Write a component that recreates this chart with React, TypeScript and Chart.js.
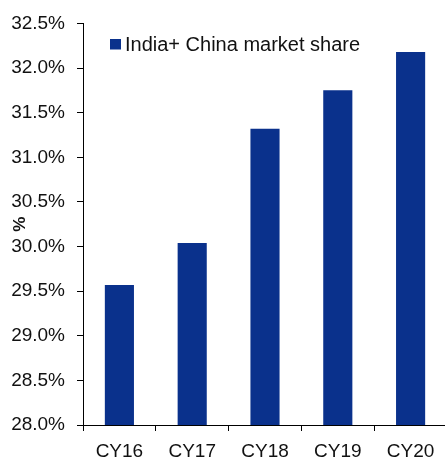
import React, { useEffect, useRef } from "react";
import { Chart, registerables } from "chart.js";

Chart.register(...registerables);

const categories: string[] = ["CY16", "CY17", "CY18", "CY19", "CY20"];
const marketShare: number[] = [29.57, 30.04, 31.32, 31.75, 32.18];
const seriesLabel = "India+ China market share";
const yTitle = "%";
const yMin = 28;
const yMax = 32.5;
const yStep = 0.5;

const BAR_COLOR = "#0a318c";
const FONT = "'Liberation Sans', Arial, sans-serif";

const legendPlugin = {
  id: "customLegend",
  afterDraw(chart: any) {
    const ctx = chart.ctx;
    const ds = chart.data.datasets[0];
    ctx.save();
    ctx.fillStyle = ds.backgroundColor;
    ctx.fillRect(110, 39, 11, 10.5);
    ctx.fillStyle = "#111";
    ctx.font = `20px ${FONT}`;
    ctx.textBaseline = "alphabetic";
    ctx.textAlign = "left";
    ctx.fillText(ds.label, 125, 50.5);
    ctx.restore();
  },
};

export default function App() {
  const ref = useRef<HTMLCanvasElement | null>(null);

  useEffect(() => {
    if (!ref.current) return;
    const chart = new Chart(ref.current, {
      type: "bar",
      data: {
        labels: categories,
        datasets: [
          {
            label: seriesLabel,
            data: marketShare,
            backgroundColor: BAR_COLOR,
            borderWidth: 0,
            categoryPercentage: 1,
            barPercentage: 0.4,
          },
        ],
      },
      options: {
        responsive: false,
        animation: false,
        layout: { padding: { top: 19, left: 0, right: 0, bottom: 0 } },
        plugins: {
          legend: { display: false },
          tooltip: { enabled: false },
        },
        scales: {
          x: {
            grid: {
              display: true,
              drawOnChartArea: false,
              drawTicks: true,
              tickLength: 6,
              color: "#000",
              offset: true,
            },
            border: { display: true, color: "#000", width: 1 },
            ticks: {
              color: "#111",
              font: { family: FONT, size: 19 },
              padding: 9,
              maxRotation: 0,
            },
            afterFit(scale: any) {
              scale.height = 33;
            },
          },
          y: {
            min: yMin,
            max: yMax,
            grid: {
              display: true,
              drawOnChartArea: false,
              drawTicks: true,
              tickLength: 6,
              color: "#000",
            },
            border: { display: true, color: "#000", width: 1 },
            ticks: {
              stepSize: yStep,
              color: "#111",
              font: { family: FONT, size: 19 },
              padding: 12,
              callback: (v: any) => Number(v).toFixed(1) + "%",
            },
            title: {
              display: true,
              text: yTitle,
              color: "#111",
              font: { family: FONT, size: 17, weight: "bold" },
              padding: { top: 10, bottom: 0 },
            },
            afterFit(scale: any) {
              scale.width = 83;
            },
          },
        },
      },
      plugins: [legendPlugin],
    });
    return () => chart.destroy();
  }, []);

  return (
    <div
      style={{
        position: "absolute",
        left: 0,
        top: 0,
        width: 445,
        height: 458,
        overflow: "hidden",
        background: "#fff",
      }}
    >
      <canvas ref={ref} width={447} height={458} style={{ display: "block" }} />
    </div>
  );
}
